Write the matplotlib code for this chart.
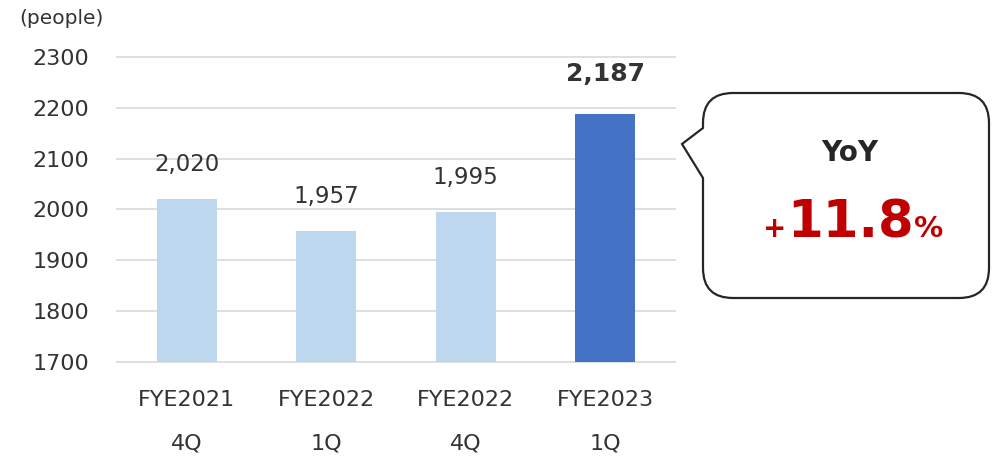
import matplotlib
matplotlib.use("Agg")
import matplotlib.pyplot as plt
from matplotlib.path import Path
from matplotlib.patches import PathPatch
from matplotlib.transforms import Affine2D, blended_transform_factory

# data
periods = ["FYE2021", "FYE2022", "FYE2022", "FYE2023"]
quarters = ["4Q", "1Q", "4Q", "1Q"]
people = [2020, 1957, 1995, 2187]
bar_colors = ["#BDD7EE", "#BDD7EE", "#BDD7EE", "#4472C4"]
yoy_text = "11.8"

W, H = 992, 459
TXT = "#333333"

fig = plt.figure(figsize=(W / 100, H / 100), dpi=100)
ax = fig.add_axes([117 / W, 1 - 362 / H, (675 - 117) / W, (362 - 57) / H])

x = range(len(people))
ax.bar(x, [v - 1700 for v in people], bottom=1700, width=0.43,
       color=bar_colors, zorder=2)
ax.set_xlim(-0.5, 3.5)
ax.set_ylim(1700, 2300)
ax.set_yticks(range(1700, 2301, 100))
ax.tick_params(axis="y", length=0, pad=20, labelsize=16, labelcolor=TXT)
ax.set_xticks([])
ax.grid(axis="y", color="#D9D9D9", linewidth=1.2, zorder=0)
for gl in ax.get_ygridlines():
    gl.set_clip_on(False)
for s in ax.spines.values():
    s.set_visible(False)

# value labels above the bars
for i, v in enumerate(people):
    last = i == len(people) - 1
    ax.annotate(f"{v:,}", xy=(i, v), xytext=(0, 29 if last else 25),
                textcoords="offset points", ha="center", va="center",
                fontsize=18 if last else 16.5,
                fontweight="bold" if last else "normal", color=TXT)

# two-line category labels
trans = blended_transform_factory(ax.transData, ax.transAxes)
for i, (p, q) in enumerate(zip(periods, quarters)):
    ax.annotate(p, xy=(i, 0), xycoords=trans, xytext=(0, -27),
                textcoords="offset points", ha="center", va="center",
                fontsize=16, color=TXT)
    ax.annotate(q, xy=(i, 0), xycoords=trans, xytext=(0, -59),
                textcoords="offset points", ha="center", va="center",
                fontsize=16, color=TXT)

# pixel coordinates (y measured from the top)
pix = Affine2D().scale(1 / W, -1 / H).translate(0, 1) + fig.transFigure

fig.text(61, 19, "(people)", transform=pix, ha="center", va="center",
         fontsize=14.5, color=TXT)

# speech-bubble callout
L, R, T, B, r = 703, 989, 93, 298, 30
verts = [(L, 128), (L, T + r), (L, T), (L + r, T), (R - r, T), (R, T), (R, T + r),
         (R, B - r), (R, B), (R - r, B), (L + r, B), (L, B), (L, B - r),
         (L, 178), (682, 144), (L, 128)]
codes = [Path.MOVETO, Path.LINETO, Path.CURVE3, Path.CURVE3, Path.LINETO,
         Path.CURVE3, Path.CURVE3, Path.LINETO, Path.CURVE3, Path.CURVE3,
         Path.LINETO, Path.CURVE3, Path.CURVE3, Path.LINETO, Path.LINETO,
         Path.CLOSEPOLY]
bubble = PathPatch(Path(verts, codes), transform=pix, facecolor="white",
                   edgecolor="#262626", linewidth=1.6, clip_on=False)
fig.add_artist(bubble)

fig.text(850, 153, "YoY", transform=pix, ha="center", va="center",
         fontsize=20, fontweight="bold", color="#262626")
fig.text(851, 237, yoy_text, transform=pix, ha="center", va="baseline",
         fontsize=37, fontweight="bold", color="#C00000")
fig.text(786, 237, "+", transform=pix, ha="right", va="baseline",
         fontsize=20, fontweight="bold", color="#C00000")
fig.text(914, 237, "%", transform=pix, ha="left", va="baseline",
         fontsize=21, fontweight="bold", color="#C00000")

fig.savefig("out.png", dpi=100)
